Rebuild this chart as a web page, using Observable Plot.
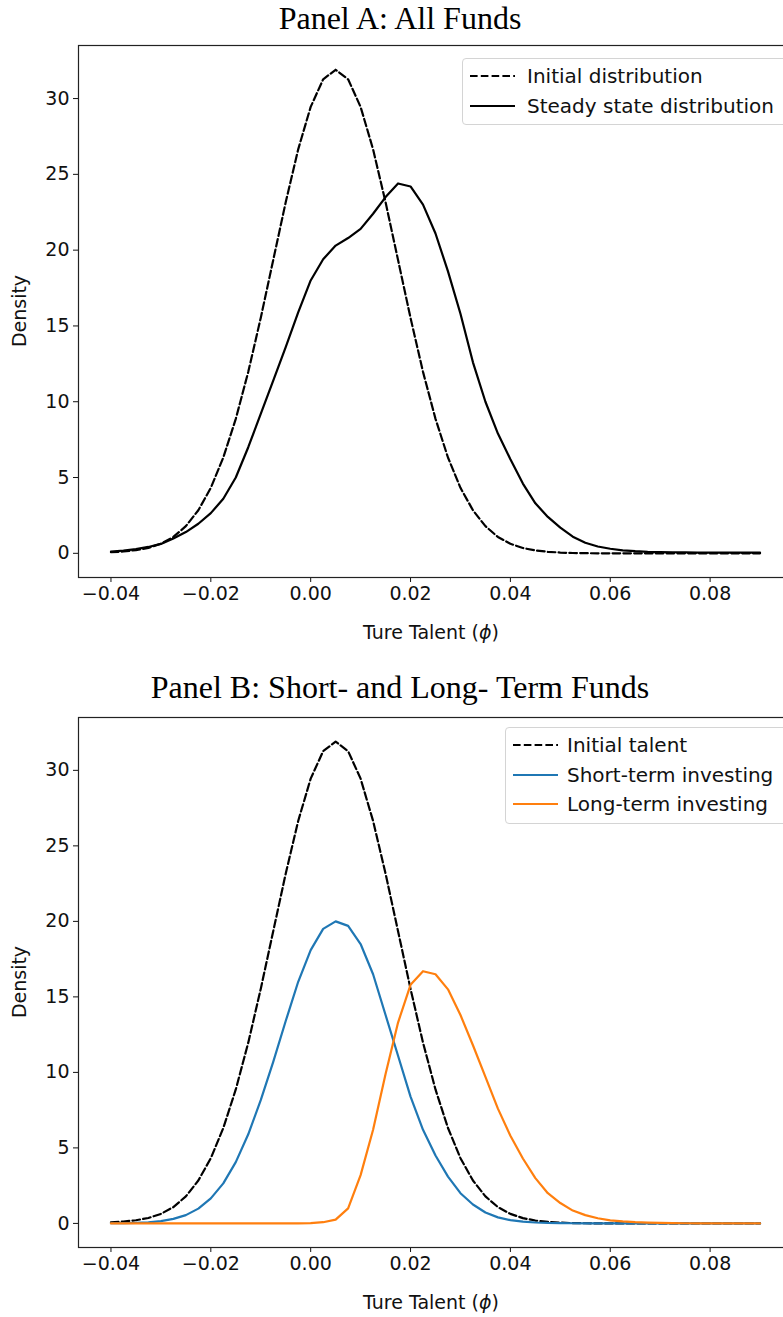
<!DOCTYPE html>
<html><head><meta charset="utf-8">
<script src="https://cdn.jsdelivr.net/npm/d3@7"></script>
<script src="https://cdn.jsdelivr.net/npm/@observablehq/plot@0.6"></script>
<style>
html,body{margin:0;padding:0;background:#fff;overflow:hidden;}
#root{position:relative;width:783px;height:1317px;overflow:hidden;background:#fff;}
.title{position:absolute;left:0;width:800px;text-align:center;font-family:"Liberation Serif","DejaVu Serif",serif;font-size:32px;color:#000;white-space:nowrap;}
.axlab{position:absolute;font-family:"DejaVu Sans",sans-serif;font-size:19px;color:#111;white-space:nowrap;}
.legend{position:absolute;border:1px solid #d4d4d4;border-radius:4px;background:rgba(255,255,255,0.8);font-family:"DejaVu Sans",sans-serif;font-size:20px;color:#111;}
.legend .row{position:absolute;left:0;height:28px;line-height:28px;white-space:nowrap;}
.legend svg{position:absolute;left:5px;top:0;}
.legend span{position:absolute;}
svg{max-width:none !important;}
</style></head>
<body><div id="root"></div>
<script>
// ---- data ----
const talent = [-0.04,-0.0375,-0.035,-0.0325,-0.03,-0.0275,-0.025,-0.0225,-0.02,-0.0175,-0.015,-0.0125,-0.01,-0.0075,-0.005,-0.0025,0,0.0025,0.005,0.0075,0.01,0.0125,0.015,0.0175,0.02,0.0225,0.025,0.0275,0.03,0.0325,0.035,0.0375,0.04,0.0425,0.045,0.0475,0.05,0.0525,0.055,0.0575,0.06,0.0625,0.065,0.0675,0.07,0.0725,0.075,0.0775,0.08,0.0825,0.085,0.0875,0.09];
const initialDensity = [0.07,0.12,0.21,0.36,0.63,1.08,1.79,2.84,4.32,6.32,8.87,11.97,15.53,19.35,23.16,26.65,29.45,31.27,31.9,31.27,29.45,26.65,23.16,19.35,15.53,11.97,8.87,6.32,4.32,2.84,1.79,1.08,0.63,0.35,0.19,0.10,0.05,0.02,0.01,0,0,0,0,0,0,0,0,0,0,0,0,0,0];
const steadyDensity = [0.12,0.18,0.28,0.42,0.62,0.98,1.40,1.95,2.65,3.60,5.00,7.00,9.20,11.40,13.60,15.90,18.00,19.40,20.30,20.80,21.40,22.40,23.50,24.40,24.20,23.00,21.10,18.60,15.80,12.60,10.00,7.90,6.20,4.60,3.30,2.40,1.70,1.10,0.70,0.45,0.30,0.20,0.14,0.10,0.08,0.07,0.06,0.05,0.05,0.04,0.04,0.04,0.04];
const shortTermDensity = [0.01,0.02,0.03,0.07,0.15,0.30,0.55,0.98,1.66,2.65,4.06,5.90,8.16,10.70,13.40,16.00,18.10,19.50,20.00,19.70,18.50,16.50,13.80,11.10,8.40,6.20,4.50,3.10,2.00,1.25,0.72,0.40,0.22,0.12,0.06,0.03,0.02,0.01,0,0,0,0,0,0,0,0,0,0,0,0,0,0,0];
const longTermDensity = [0,0,0,0,0,0,0,0,0,0,0,0,0,0,0,0,0.02,0.08,0.25,1.0,3.2,6.2,9.9,13.3,15.8,16.7,16.5,15.5,13.8,11.8,9.7,7.6,5.8,4.3,3.0,2.0,1.35,0.85,0.55,0.34,0.2,0.13,0.08,0.05,0.03,0.02,0.01,0,0,0,0,0,0];
const xTicks = [-0.04,-0.02,0.00,0.02,0.04,0.06,0.08];
const yTicks = [0,5,10,15,20,25,30];
const titles = ["Panel A: All Funds","Panel B: Short- and Long- Term Funds"];
const legendA = ["Initial distribution","Steady state distribution"];
const legendB = ["Initial talent","Short-term investing","Long-term investing"];
const colors = {black:"#000000", blue:"#1f77b4", orange:"#ff7f0e"};

const rows = talent.map((t,i)=>({t, init:initialDensity[i], steady:steadyDensity[i], short:shortTermDensity[i], long:longTermDensity[i]}));
const root = document.getElementById("root");
const dash = "7.6,3.2";

function panel(top, plotH, marksFn){
  const svg = Plot.plot({
    width: 800, height: 5 + plotH + 60,
    marginLeft: 78, marginRight: 8, marginTop: 5, marginBottom: 60,
    style: {fontFamily:"DejaVu Sans, sans-serif", fontSize:"19px", color:"#111", background:"transparent", overflow:"visible", maxWidth:"none"},
    x: {domain:[-0.0465,0.0965], ticks:xTicks, tickFormat:d3.format(".2f"), label:null, tickSize:5, tickPadding:4},
    y: {domain:[-1.595,33.5], ticks:yTicks, label:null, tickSize:5, tickPadding:4},
    marks: [
      ...marksFn(),
      Plot.frame({stroke:"#222", strokeWidth:1.2})
    ]
  });
  svg.style.position = "absolute"; svg.style.left = "0px"; svg.style.top = top + "px";
  svg.style.maxWidth = "none"; svg.style.width = "800px";
  root.appendChild(svg);
}

function addDiv(cls, html, css){
  const d = document.createElement("div"); d.className = cls; d.innerHTML = html;
  Object.assign(d.style, css); root.appendChild(d); return d;
}

function legend(left, top, w, entries){
  const box = addDiv("legend", "", {left:left+"px", top:top+"px", width:w+"px", height:(entries.length*29.5+6)+"px"});
  entries.forEach((e,i)=>{
    const r = document.createElement("div"); r.className = "row";
    r.style.top = (3 + i*29.5) + "px"; r.style.width = w + "px";
    r.innerHTML = `<svg width="50" height="28"><line x1="2" x2="47" y1="14" y2="14" stroke="${e.color}" stroke-width="2.2" ${e.dash?`stroke-dasharray="${dash}"`:""}/></svg><span style="left:${e.tx}px">${e.label}</span>`;
    box.appendChild(r);
  });
}

// Panel A
addDiv("title", titles[0], {top:"0px", height:"36px", lineHeight:"36px", left:"0px", width:"800px"});
panel(40, 532, ()=>[
  Plot.lineY(rows, {x:"t", y:"init", stroke:colors.black, strokeWidth:2.2, strokeDasharray:dash}),
  Plot.lineY(rows, {x:"t", y:"steady", stroke:colors.black, strokeWidth:2.2})
]);
addDiv("axlab", "Ture Talent (<i>ϕ</i>)", {left:"431px", top:"632px", transform:"translate(-50%,-50%)"});
addDiv("axlab", "Density", {left:"19px", top:"311px", transform:"translate(-50%,-50%) rotate(-90deg)"});
legend(462, 58, 330, [
  {label:legendA[0], color:colors.black, dash:true, tx:64},
  {label:legendA[1], color:colors.black, dash:false, tx:64}
]);

// Panel B
addDiv("title", titles[1], {top:"669px", height:"36px", lineHeight:"36px", left:"0px", width:"800px"});
panel(712, 530, ()=>[
  Plot.lineY(rows, {x:"t", y:"init", stroke:colors.black, strokeWidth:2.2, strokeDasharray:dash}),
  Plot.lineY(rows, {x:"t", y:"short", stroke:colors.blue, strokeWidth:2.2}),
  Plot.lineY(rows, {x:"t", y:"long", stroke:colors.orange, strokeWidth:2.2})
]);
addDiv("axlab", "Ture Talent (<i>ϕ</i>)", {left:"431px", top:"1302px", transform:"translate(-50%,-50%)"});
addDiv("axlab", "Density", {left:"19px", top:"982px", transform:"translate(-50%,-50%) rotate(-90deg)"});
legend(505, 727, 290, [
  {label:legendB[0], color:colors.black, dash:true, tx:61},
  {label:legendB[1], color:colors.blue, dash:false, tx:61},
  {label:legendB[2], color:colors.orange, dash:false, tx:61}
]);
</script></body></html>
